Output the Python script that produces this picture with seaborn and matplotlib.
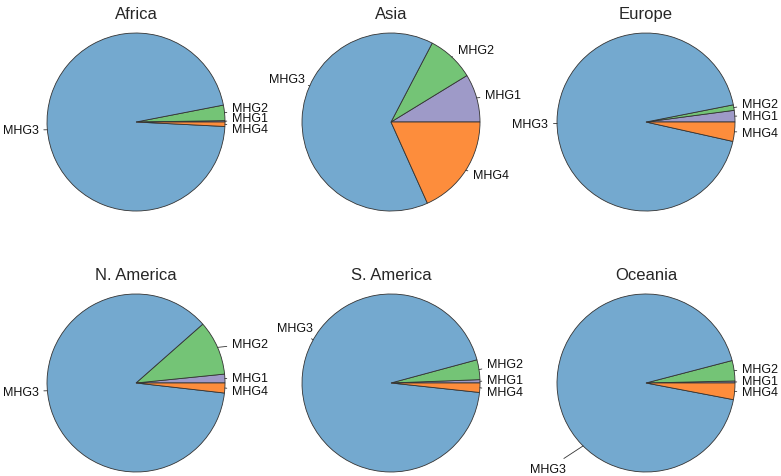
import numpy as np
import matplotlib.pyplot as plt
import seaborn as sns

regions = ['Africa', 'Asia', 'Europe', 'N. America', 'S. America', 'Oceania']
groups = ['MHG1', 'MHG2', 'MHG3', 'MHG4']
mhg1 = [0.25, 8.75, 2.1, 1.6, 0.6, 0.36]
mhg2 = [2.8, 8.6, 1.0, 9.9, 3.6, 3.7]
mhg3 = [96.15, 64.4, 93.4, 86.7, 94.1, 92.94]
mhg4 = [0.8, 18.3, 3.5, 1.8, 1.7, 3.0]

colors = ['#9e9ac8', '#74c476', '#74a9cf', '#fd8d3c']

# MHG3 label: edge angle of the tick, then text angle and radius
mhg3_tick_angle = [185, 156, 181, 185, 151, 225]
mhg3_text_pos = [(184.7, 1.1), (153.4, 1.08), (181, 1.1), (185, 1.1),
                 (145, 1.07), (227, 1.32)]
# nudged heights of the small-slice labels where they crowd (MHG1, MHG2, MHG4)
small_label_y = {
    'Africa': [0.045, 0.16, -0.075],
    'Europe': [0.073, 0.208, -0.118],
    'N. America': [0.056, None, -0.09],
    'S. America': [0.037, 0.217, -0.101],
    'Oceania': [0.018, 0.153, -0.101],
}

sns.set_theme(style='white')
plt.rcParams['font.family'] = ['Liberation Sans', 'DejaVu Sans']

fig, axes = plt.subplots(2, 3, figsize=(7.81, 4.77), dpi=100)
plt.subplots_adjust(left=0.0602, right=0.9411, top=0.9287, bottom=0.0084,
                    wspace=0.4326, hspace=0.466)

for k, (ax, region) in enumerate(zip(axes.flat, regions)):
    vals = [mhg1[k], mhg2[k], mhg3[k], mhg4[k]]
    wedges, _ = ax.pie(vals, colors=colors, startangle=0, counterclock=True,
                       radius=1, wedgeprops=dict(edgecolor='#333333', linewidth=0.6))
    ax.set_xlim(-1, 1)
    ax.set_ylim(-1, 1)
    ax.set_title(region, fontsize=12, pad=11)

    ys = small_label_y.get(region)
    for i, (w, g) in enumerate(zip(wedges, groups)):
        if i == 2:
            a = np.deg2rad(mhg3_tick_angle[k])
            ta, tr = mhg3_text_pos[k]
            tx, ty = tr * np.cos(np.deg2rad(ta)), tr * np.sin(np.deg2rad(ta))
        else:
            a = np.deg2rad((w.theta1 + w.theta2) / 2)
            tx, ty = 1.1 * np.cos(a), 1.1 * np.sin(a)
            if ys is not None:
                j = [0, 1, None, 2][i]
                tx = 1.08
                if ys[j] is not None:
                    ty = ys[j]
        x0, y0 = np.cos(a), np.sin(a)
        ha = 'left' if tx > 0 else 'right'
        ax.annotate(g, xy=(x0, y0), xytext=(tx, ty), ha=ha, va='center',
                    fontsize=9, color='#111111', annotation_clip=False,
                    arrowprops=dict(arrowstyle='-', color='#333333', lw=0.6,
                                    shrinkA=1.5, shrinkB=0))

fig.savefig('out.png', dpi=100)
